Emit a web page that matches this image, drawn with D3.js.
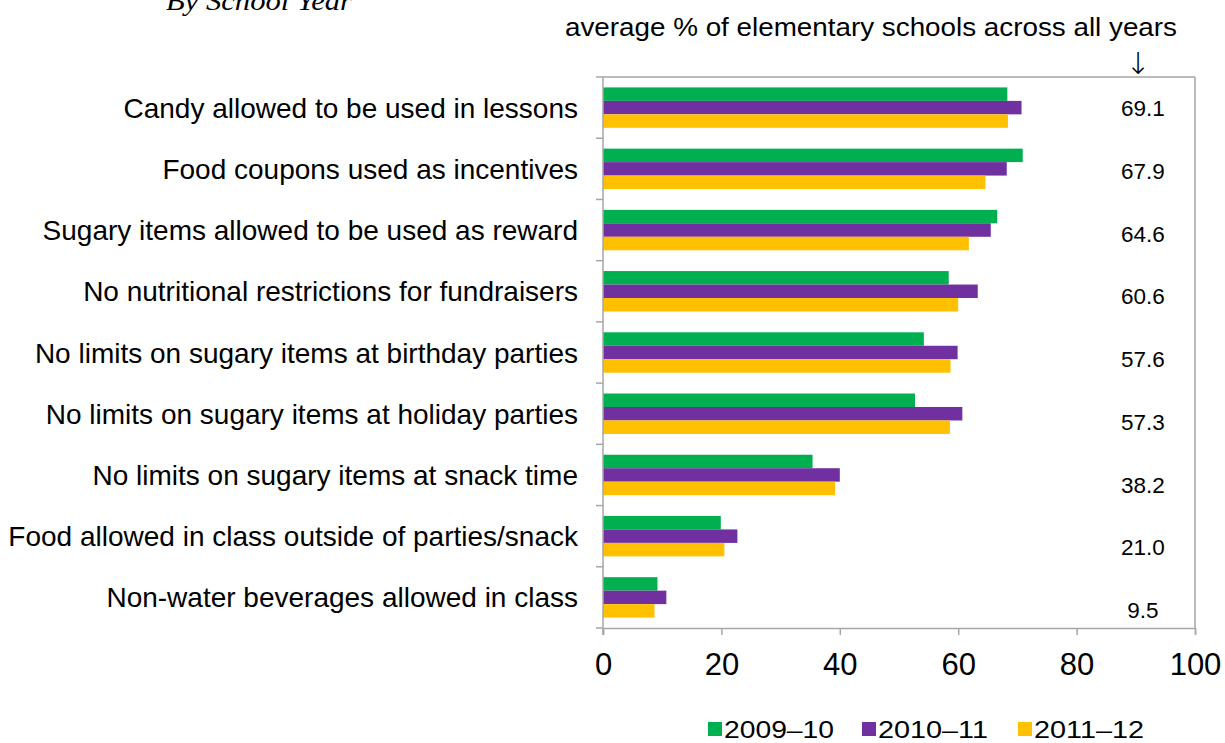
<!DOCTYPE html>
<html><head><meta charset="utf-8">
<script src="https://cdn.jsdelivr.net/npm/d3@7"></script>
<style>body{margin:0;background:#fff}</style>
</head><body>
<svg id="c" width="1225" height="743"></svg>
<script>
const categories = [
  "Candy allowed to be used in lessons",
  "Food coupons used as incentives",
  "Sugary items allowed to be used as reward",
  "No nutritional restrictions for fundraisers",
  "No limits on sugary items at birthday parties",
  "No limits on sugary items at holiday parties",
  "No limits on sugary items at snack time",
  "Food allowed in class outside of parties/snack",
  "Non-water beverages allowed in class"
];
const seriesNames = ["2009–10", "2010–11", "2011–12"];
const values2009 = [68.3, 70.9, 66.6, 58.4, 54.2, 52.7, 35.4, 19.9, 9.2];
const values2010 = [70.7, 68.2, 65.5, 63.3, 59.9, 60.7, 40.0, 22.7, 10.7];
const values2011 = [68.4, 64.6, 61.8, 60.0, 58.7, 58.6, 39.2, 20.5, 8.7];
const averages = ["69.1", "67.9", "64.6", "60.6", "57.6", "57.3", "38.2", "21.0", "9.5"];
const xTicks = [0, 20, 40, 60, 80, 100];
const colors = ["#00B050", "#7030A0", "#FFC000"];

const seriesValues = [values2009, values2010, values2011];
const svg = d3.select("#c");
const font = "'Liberation Sans', Arial, sans-serif";
const L = 603, R = 1195, T = 77, B = 628;

const x = d3.scaleLinear().domain([0, 100]).range([L, R]);
const y = d3.scaleBand().domain(categories).range([T, B]).paddingInner(0.34).paddingOuter(0.17);
const ySub = d3.scaleBand().domain(seriesNames).range([0, y.bandwidth()]);
const yLabel = d3.scalePoint().domain(categories).range([108, 610]);

// title fragment
svg.append("text").attr("x", 166).attr("y", 10)
  .attr("font-family", "'Liberation Serif', 'DejaVu Serif', serif")
  .attr("font-style", "italic").attr("font-size", 28).attr("fill", "#000")
  .attr("textLength", 186).attr("lengthAdjust", "spacingAndGlyphs")
  .text("By School Year");

// annotation
svg.append("text").attr("x", 871).attr("y", 36).attr("text-anchor", "middle")
  .attr("font-family", font).attr("font-size", 25).attr("fill", "#000")
  .attr("textLength", 612).attr("lengthAdjust", "spacingAndGlyphs")
  .text("average % of elementary schools across all years");
svg.append("text").attr("x", 1138).attr("y", 74).attr("text-anchor", "middle")
  .attr("font-family", "'DejaVu Sans', sans-serif").attr("font-size", 30).attr("font-weight", 200).attr("fill", "#000")
  .text("↓");

// plot border (top & right)
const grey = "#A6A6A6";
svg.append("line").attr("x1", L).attr("x2", R).attr("y1", T).attr("y2", T).attr("stroke", grey).attr("stroke-width", 1.5);
svg.append("line").attr("x1", R).attr("x2", R).attr("y1", T).attr("y2", B).attr("stroke", grey).attr("stroke-width", 1.5);

// bars
const groups = svg.append("g").selectAll("g").data(categories).join("g")
  .attr("transform", d => `translate(0,${y(d)})`);
groups.selectAll("rect").data((d, i) => seriesNames.map((s, j) => ({s, j, v: seriesValues[j][i]})))
  .join("rect")
  .attr("x", x(0)).attr("y", d => ySub(d.s))
  .attr("width", d => x(d.v) - x(0)).attr("height", ySub.bandwidth())
  .attr("fill", d => colors[d.j]);

// left axis
const gl = svg.append("g");
gl.append("line").attr("x1", L).attr("x2", L).attr("y1", T).attr("y2", B + 7).attr("stroke", grey).attr("stroke-width", 1.5);
gl.selectAll("line.tk").data(d3.range(categories.length + 1)).join("line").attr("class", "tk")
  .attr("x1", L - 7).attr("x2", L)
  .attr("y1", i => T + i * y.step()).attr("y2", i => T + i * y.step())
  .attr("stroke", grey).attr("stroke-width", 1.5);
gl.selectAll("text").data(categories).join("text")
  .attr("x", 578).attr("y", d => y(d) + y.bandwidth() / 2).attr("dy", "0.36em")
  .attr("text-anchor", "end").attr("font-family", font).attr("font-size", 28).attr("fill", "#000")
  .text(d => d);

// bottom axis
const gb = svg.append("g").attr("transform", `translate(0,${B})`)
  .call(d3.axisBottom(x).tickValues(xTicks).tickSize(7).tickPadding(18).tickFormat(d3.format("d")));
gb.select(".domain").attr("stroke", grey).attr("stroke-width", 1.5);
gb.selectAll(".tick line").attr("stroke", grey).attr("stroke-width", 1.5);
gb.selectAll(".tick text").attr("font-family", font).attr("font-size", 31).attr("fill", "#000");

// average labels
svg.append("g").selectAll("text").data(categories).join("text")
  .attr("x", 1143).attr("y", d => yLabel(d)).attr("dy", "0.36em").attr("text-anchor", "middle")
  .attr("font-family", font).attr("font-size", 22.5).attr("fill", "#000")
  .text((d, i) => averages[i]);

// legend
const legendX = [708, 862, 1018];
const lg = svg.append("g").selectAll("g").data(seriesNames).join("g")
  .attr("transform", (d, i) => `translate(${legendX[i]},722)`);
lg.append("rect").attr("width", 14).attr("height", 14).attr("fill", (d, i) => colors[i]);
lg.append("text").attr("x", 16).attr("y", 16).attr("font-family", font).attr("font-size", 24).attr("fill", "#000")
  .attr("textLength", 110).attr("lengthAdjust", "spacingAndGlyphs")
  .text(d => d);
</script>
</body></html>
